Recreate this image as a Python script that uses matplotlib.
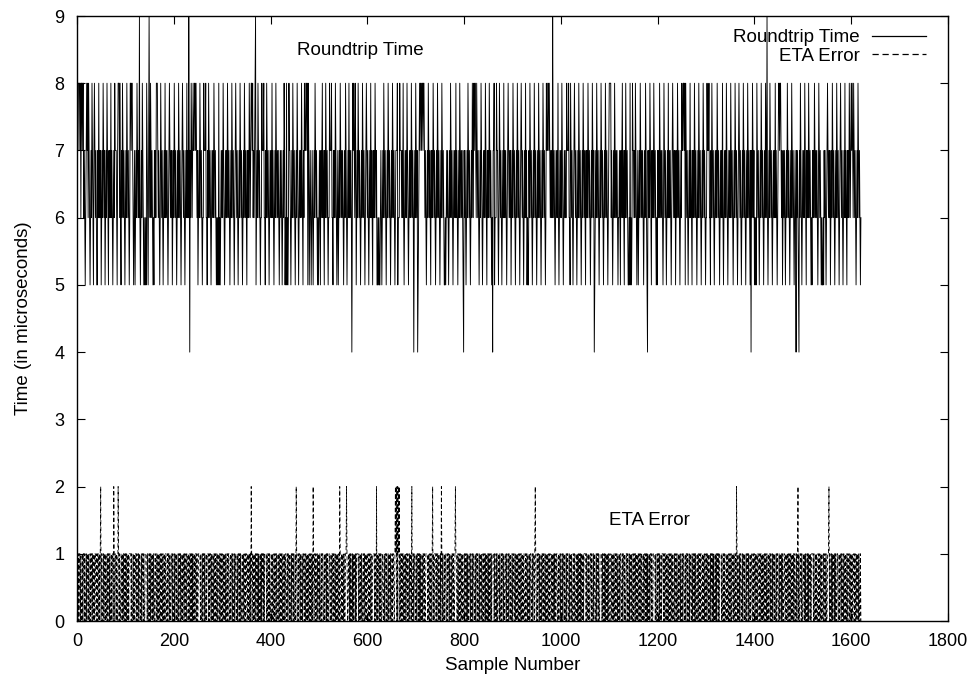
import numpy as np
import matplotlib
matplotlib.use("Agg")
import matplotlib.pyplot as plt

plt.rcParams['font.family'] = ['Liberation Sans', 'DejaVu Sans']

# Roundtrip time per sample (hand-read digit rows, spaces ignored)
roundtrip_rows = [
    "8878887868 8788676567 8786876567 6876578767 6557686767 5676876756 7687657676 8676567687",
    "7765788868 6576876765 6768767656 8878876567 5676876767 6567687656 5565876576 7687676565",
    "7676888767 6568767656 7686767656 7876767567 6876765676 8767656787 6765676867 6576768767",
    "8778878767 5676876765 6687778665 7687676567 6768767656 5658565676 7687656767 6876765676",
    "8767656787 6765676876 7656768767 6576768767 8878676787 5676876765 6687778665 7687676567",
    "6768676567 6876767656 7676567687 5658565687 7656768767 6567687656 7676876576 8778878587",
    "5676567656 7687676565 6765767867 6576876765 6687778665 7676876567 5676876767 6567687656",
    "7686767656 8787687567 6876765676 8767656787 6765676867 6576768767 5565655676 5676876765",
    "6768767656 7687676567 7785666877 7676865676 7687656767 6876765676 8767656787 8878878876",
    "7656768767 6576768767 6567687676 5676876765 5656767656 7687676567 6768676567 6876767656",
    "7676567687 6765676876 8788768767 6567687656 7676876576 7687676565 7785666877 6568767656",
    "7686767656 7876767567 6876765676 8767656787 6765676867 5655768767 6567687676 5676876765",
    "6768767656 8778878767 6768767656 7676865676 7687656767 6687778665 8767656787 6765676876",
    "7656768767 6576768767 6567687676 5676876765 6768767656 7687676567 8888676567 6876767656",
    "6765767867 6576876765 5658565687 7676876567 5676876767 6567687656 7676876576 7687676565",
    "7676876767 6568767656 7686767656 7876767567 6876765676 8778878587 6765676867 6576768767",
    "6567687676 5676876765 6687778665 7687676567 6768767656 7676865676 7687656767 6876765676",
    "8767656787 6765676876 7656768767 6576768767 5656587676 5676876765 6768767656 7687676567",
    "6768676567 8878876756 7676567687 6765676876 7656768767 6567687656 7676876576 7687676565",
    "7676876767 6568767656 5565767656 7876767567 6876765676 8767656787 6765676867 6576768767",
    "8787687676 5676876765 6",
]
roundtrip_peak_samples = [129, 149, 231, 369, 983, 1426]           # value 9
roundtrip_dip_samples = [233, 568, 696, 704, 799, 859, 1069, 1179,
                         1393, 1486, 1492]                          # value 4

# ETA error per sample (hand-read digit rows, spaces ignored)
eta_rows = [
    "1101011010 0101101001 0110100101 1010010110 0101101010 0110010110 1001011010 0101100101",
    "1010011010 0110101001 0101101011 1101001010 0110100101 1001011010 0111101001 0101101010",
    "0110010110 1001011010 0101100101 1010011010 0101101001 0110100101 1010010110 0101101010",
    "1001011010 0111101001 0110100101 1101011010 0101101001 0110010110 1001011010 0101100101",
    "1010010110 0101101010 0110100101 1001011010 0101101001 0110101001 0101101011 1101001010",
    "0110100101 1010011010 0101101001 0110010110 1001011010 0101100101 1010010110 0101101010",
    "0101101001 0110100101 1010010110 0101101010 0110010110 1001011010 0101100101 1010011010",
    "0110101001 0101101011 1101001010 0110100101 1001011010 0111101001 0101101010 0110010110",
    "1001011010 0101100101 1010011010 0101101001 0110100101 1010010110 0101101010 1001011010",
    "0111101001 0110100101 1101011010 0101101001 0110010110 1001011010 0101100101 1010010110",
    "0101101010 0110100101 1001011010 0101101001 0110101001 0101101011 1101001010 0110100101",
    "1010011010 0101101001 0110010110 1001011010 0101100101 1010010110 0101101010 0101101001",
    "0110100101 1010010110 0101101010 0110010110 1001011010 0101100101 1010011010 0110101001",
    "0101101011 1101001010 0110100101 1001011010 0111101001 0101101010 0110010110 1001011010",
    "0101100101 1010011010 0101101001 0110100101 1010010110 0101101010 1001011010 0111101001",
    "0110100101 1101011010 0101101001 0110010110 1001011010 0101100101 1010010110 0101101010",
    "0110100101 1001011010 0101101001 0110101001 0101101011 1101001010 0110100101 1010011010",
    "0101101001 0110010110 1001011010 0101100101 1010010110 0101101010 0101101001 0110100101",
    "1010010110 0101101010 0110010110 1001011010 0101100101 1010011010 0110101001 0101101011",
    "1101001010 0110100101 1001011010 0111101001 0101101010 0110010110 1001011010 0101100101",
    "1010011010 0101101001 0",
]
eta_two_samples = [0, 49, 76, 85, 360, 453, 488, 543, 557, 619, 658, 660,
                   662, 664, 666, 692, 735, 753, 782, 947, 1363, 1490, 1554]

x_ticks = [0, 200, 400, 600, 800, 1000, 1200, 1400, 1600, 1800]
y_ticks = [0, 1, 2, 3, 4, 5, 6, 7, 8, 9]


def decode(rows):
    return np.array([int(c) for c in "".join(rows).replace(" ", "")], dtype=float)


rt = decode(roundtrip_rows)
rt[roundtrip_peak_samples] = 9
rt[roundtrip_dip_samples] = 4
eta = decode(eta_rows)
eta[eta_two_samples] = 2

fig = plt.figure(figsize=(9.78, 6.82), dpi=100)
ax = fig.add_axes([77 / 978, 61 / 682, 871 / 978, 605 / 682])

ax.plot(np.arange(len(rt)), rt, color='black', lw=0.65, label='Roundtrip Time')
ax.plot(np.arange(len(eta)), eta, color='black', lw=0.6,
        linestyle=(0, (5, 3)), label='ETA Error')

ax.set_xlim(0, 1800)
ax.set_ylim(0, 9)
ax.set_xticks(x_ticks)
ax.set_yticks(y_ticks)
ax.tick_params(direction='in', length=6, width=0.8, top=True, right=True,
               labelsize=13, pad=9)
for s in ax.spines.values():
    s.set_linewidth(1.0)

ax.set_xlabel('Sample Number', fontsize=13.5, labelpad=5)
ax.set_ylabel('Time (in microseconds)', fontsize=13.5, labelpad=16)

ax.text(585, 8.49, 'Roundtrip Time', fontsize=13.5, ha='center', va='center')
ax.text(1182, 1.50, 'ETA Error', fontsize=13.5, ha='center', va='center')

leg = ax.legend(loc='upper right', bbox_to_anchor=(0.975, 0.978),
                markerfirst=False, frameon=False, fontsize=13.5,
                handlelength=2.9, handletextpad=0.64, labelspacing=0.08,
                borderaxespad=0, borderpad=0)
for t in leg.get_texts():
    t.set_ha('right')
for h in leg.get_lines():
    h.set_linewidth(0.9)

fig.savefig('out.png', dpi=100)
